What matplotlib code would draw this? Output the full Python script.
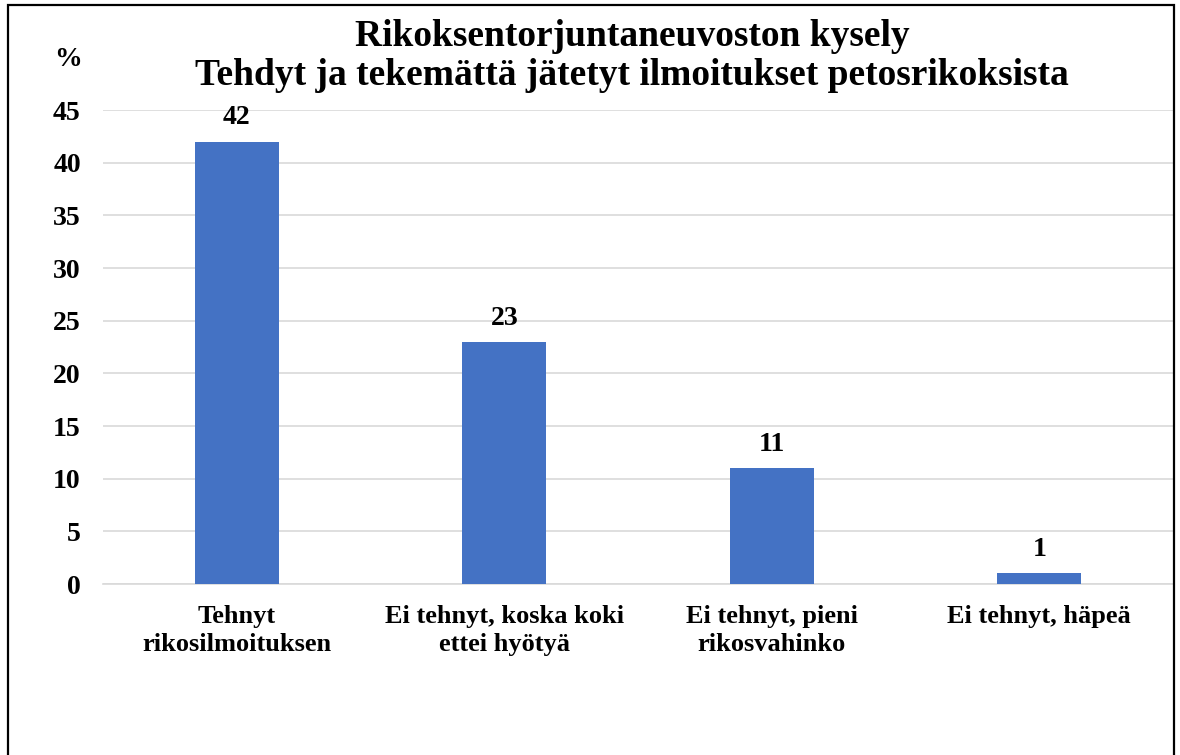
import matplotlib
matplotlib.use("Agg")
import matplotlib.pyplot as plt
from matplotlib.patches import Rectangle

# ── Data ──────────────────────────────────────────────────────────
CATEGORIES = [
    "Tehnyt\nrikosilmoituksen",
    "Ei tehnyt, koska koki\nettei hyötyä",
    "Ei tehnyt, pieni\nrikosvahinko",
    "Ei tehnyt, häpeä",
]
PERCENTS = [42, 23, 11, 1]
Y_TICKS = [0, 5, 10, 15, 20, 25, 30, 35, 40, 45]

TITLE = "Rikoksentorjuntaneuvoston kysely\nTehdyt ja tekemättä jätetyt ilmoitukset petosrikoksista"
BAR_COLOR = "#4472C4"

plt.rcParams.update({
    "font.family": ["Liberation Serif", "DejaVu Serif"],
    "font.weight": "bold",
})

W, H = 1180, 755
fig = plt.figure(figsize=(W / 100, H / 100), dpi=100)
ax = fig.add_axes([103 / W, (H - 584) / H, (1173 - 103) / W, (584 - 110) / H])

x = range(len(CATEGORIES))
bars = ax.bar(x, PERCENTS, width=0.313, color=BAR_COLOR, zorder=3)

for bar, val in zip(bars, PERCENTS):
    ax.annotate("%d" % val,
                (bar.get_x() + bar.get_width() / 2, bar.get_height()),
                xytext=(0, 8), textcoords="offset points",
                ha="center", va="bottom", fontsize=20, fontweight="bold")

ax.set_xlim(-0.5, len(CATEGORIES) - 0.5)
ax.set_ylim(0, 45)
ax.set_yticks(Y_TICKS)
ax.set_xticks(list(x))
ax.set_xticklabels(CATEGORIES, fontsize=19, fontweight="bold", linespacing=1.3)
ax.tick_params(axis="y", length=0, pad=16, labelsize=20)
ax.tick_params(axis="x", length=0, pad=15)

ax.grid(axis="y", color="#d9d9d9", linewidth=1.2, zorder=0)
for side in ["top", "right", "left"]:
    ax.spines[side].set_visible(False)
ax.spines["bottom"].set_color("#d9d9d9")
ax.spines["bottom"].set_linewidth(1.2)

fig.text(632 / W, 1 - 56 / H, TITLE, ha="center", va="center",
         fontsize=27, fontweight="bold", linespacing=1.12)
fig.text(68 / W, 1 - 60 / H, "%", ha="center", va="center",
         fontsize=20, fontweight="bold")

# border around the chart (bottom edge runs off the image)
fig.patches.append(Rectangle((8 / W, -0.02), (1174 - 8) / W, 1.02 - 5 / H,
                             transform=fig.transFigure, fill=False,
                             edgecolor="black", linewidth=1.6))

fig.savefig("out.png", dpi=100)
